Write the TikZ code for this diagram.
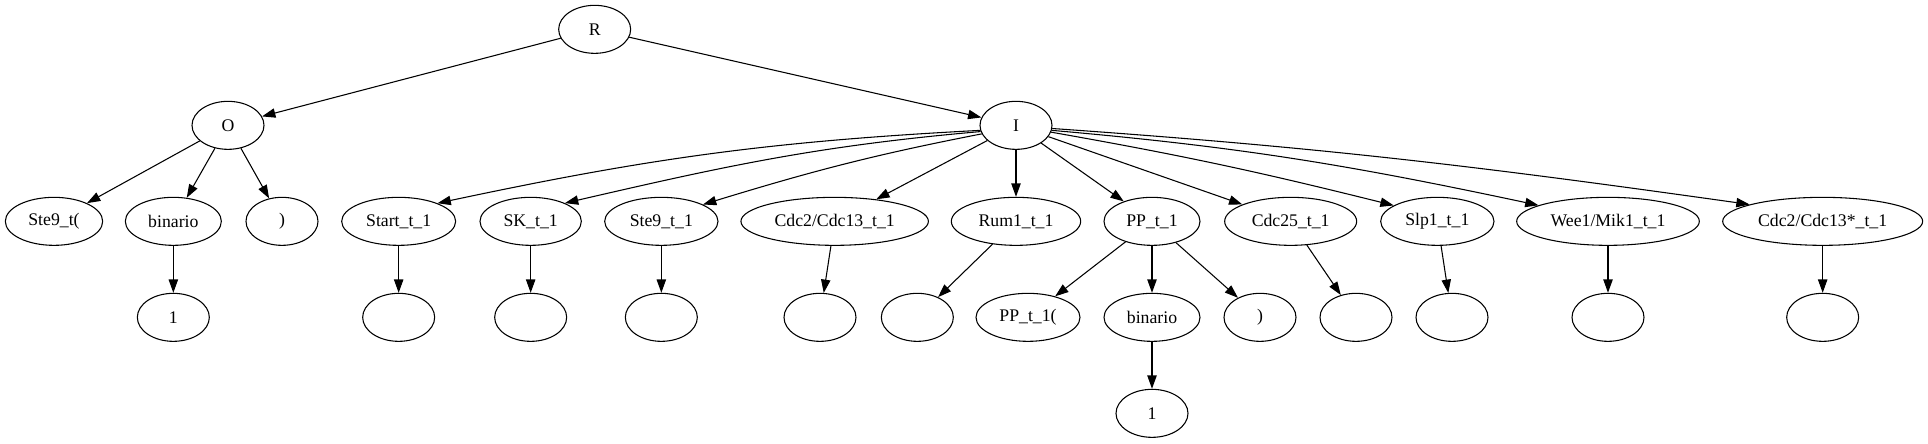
\documentclass[tikz,border=0pt]{standalone}
\usepackage{fontspec}
\setmainfont{Liberation Serif}
\usetikzlibrary{shapes.geometric,arrows.meta}

\begin{document}
\begin{tikzpicture}[x=1pt, y=1pt,
  tn/.style={draw, ellipse, line width=0.8pt, minimum width=54pt, minimum height=36pt,
    inner sep=0pt, font=\fontsize{13.3}{16}\selectfont},
  link/.style={->, line width=0.8pt},
  >={Triangle[length=10pt, width=7pt]}]

  \useasboundingbox (0,0) rectangle (1446,-332.25);

  \node[tn] (R) at (446,-22) {R};
  \node[tn] (O) at (171,-94) {O};
  \node[tn] (I) at (762,-94) {I};

  % children of O
  \node[tn, minimum width=73pt] (ste9p) at (40.5,-166) {Ste9\_t(};
  \node[tn, minimum width=72pt] (binO) at (130,-166) {binario};
  \node[tn] (parO) at (211.5,-166) {)};
  \node[tn] (oneO) at (130,-238) {1};

  % children of I
  \node[tn, minimum width=85.5pt] (start) at (299,-166) {Start\_t\_1};
  \node[tn, minimum width=76pt] (sk) at (398,-166) {SK\_t\_1};
  \node[tn, minimum width=85pt] (ste9) at (496,-166) {Ste9\_t\_1};
  \node[tn, minimum width=140.6pt] (cdcA) at (626,-166) {Cdc2/Cdc13\_t\_1};
  \node[tn, minimum width=97pt] (rum) at (762,-166) {Rum1\_t\_1};
  \node[tn, minimum width=72pt] (pp) at (864,-166) {PP\_t\_1};
  \node[tn, minimum width=99pt] (cdc25) at (968,-166) {Cdc25\_t\_1};
  \node[tn, minimum width=85pt] (slp) at (1078,-166) {Slp1\_t\_1};
  \node[tn, minimum width=137pt] (wee) at (1206,-166) {Wee1/Mik1\_t\_1};
  \node[tn, minimum width=150pt] (cdcB) at (1367,-166) {Cdc2/Cdc13*\_t\_1};

  % third row
  \node[tn] (eStart) at (299,-238) {};
  \node[tn] (eSk) at (398,-238) {};
  \node[tn] (eSte9) at (496,-238) {};
  \node[tn] (eCdcA) at (615,-238) {};
  \node[tn] (eRum) at (688,-238) {};
  \node[tn, minimum width=78pt] (ppp) at (771,-238) {PP\_t\_1(};
  \node[tn, minimum width=72pt] (binP) at (864,-238) {binario};
  \node[tn] (parP) at (945,-238) {)};
  \node[tn] (eCdc25) at (1017,-238) {};
  \node[tn] (eSlp) at (1089,-238) {};
  \node[tn] (eWee) at (1206,-238) {};
  \node[tn] (eCdcB) at (1367,-238) {};
  \node[tn] (oneP) at (864,-310) {1};

  \draw[link] (R) -- (O);
  \draw[link] (R) -- (I);

  \draw[link] (O) -- (ste9p);
  \draw[link] (O) -- (binO);
  \draw[link] (O) -- (parO);
  \draw[link] (binO) -- (oneO);

  \draw[link] (I.188) to[out=183, in=12] (start.25);
  \draw[link] (I.190) to[out=185, in=13] (sk.28);
  \draw[link] (I.194) to[out=191, in=17] (ste9.22);
  \draw[link] (I) -- (cdcA);
  \draw[link] (I) -- (rum);
  \draw[link] (I) -- (pp);
  \draw[link] (I) -- (cdc25);
  \draw[link] (I.-11) to[out=-10, in=166] (slp.160);
  \draw[link] (I.-8) to[out=-5, in=168] (wee.167);
  \draw[link] (I.-5) to[out=-4, in=172] (cdcB.167);

  \draw[link] (start) -- (eStart);
  \draw[link] (sk) -- (eSk);
  \draw[link] (ste9) -- (eSte9);
  \draw[link] (cdcA) -- (eCdcA);
  \draw[link] (rum) -- (eRum);
  \draw[link] (pp) -- (ppp);
  \draw[link] (pp) -- (binP);
  \draw[link] (pp) -- (parP);
  \draw[link] (binP) -- (oneP);
  \draw[link] (cdc25) -- (eCdc25);
  \draw[link] (slp) -- (eSlp);
  \draw[link] (wee) -- (eWee);
  \draw[link] (cdcB) -- (eCdcB);

\end{tikzpicture}
\end{document}
